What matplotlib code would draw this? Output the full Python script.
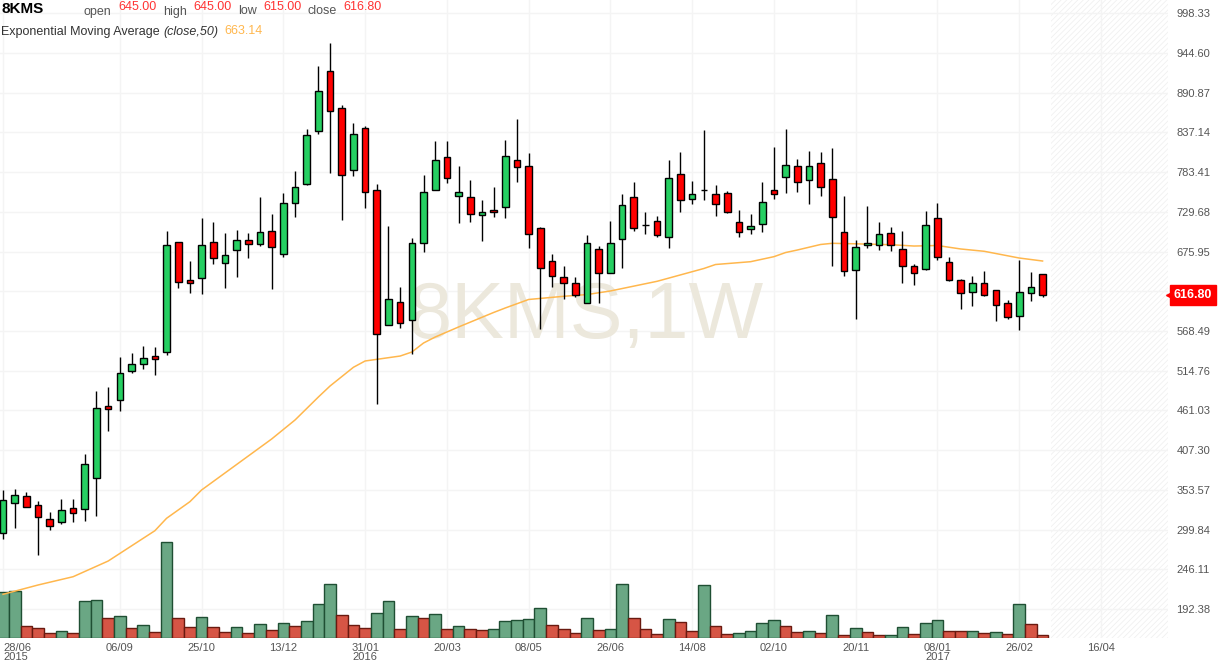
import matplotlib
matplotlib.use("Agg")
import matplotlib.pyplot as plt
import matplotlib.transforms as mtransforms
from matplotlib.patches import Rectangle

plt.rcParams['font.family'] = ['Liberation Sans', 'DejaVu Sans']
plt.rcParams['hatch.linewidth'] = 0.5

# Weekly candles, 28/06/2015 .. 12/03/2017 (week index 0..89)
opens = [294.8, 335.4, 344.9, 332.7, 313.7, 309.7, 328.6, 327.3, 370.0, 466.6,
         474.7, 513.9, 523.4, 534.2, 539.6, 688.4, 637.0, 639.7, 688.4, 660.0,
         677.6, 691.1, 685.7, 703.3, 672.2, 741.2, 767.7, 838.6, 919.8, 869.7,
         785.8, 842.6, 758.8, 576.2, 607.3, 582.9, 687.1, 758.8, 803.4, 750.7,
         749.3, 725.0, 731.7, 735.8, 799.4, 791.2, 707.4, 662.7, 641.1, 633.0,
         605.9, 679.0, 646.5, 692.5, 749.3, 711.4, 716.8, 695.2, 780.4, 746.6,
         758.8, 753.4, 754.7, 715.5, 706.0, 712.8, 758.8, 776.4, 791.2, 772.3,
         795.3, 773.7, 702.0, 650.6, 684.4, 684.4, 700.6, 679.0, 656.0, 651.9,
         720.9, 661.4, 637.0, 620.8, 633.0, 623.5, 605.9, 588.3, 619.5, 645.0]
highs = [353.4, 354.7, 350.3, 338.5, 323.6, 341.2, 341.2, 402.1, 487.3, 492.7,
         533.3, 538.7, 548.2, 546.4, 703.7, 689.5, 663.1, 720.9, 715.5, 701.0,
         704.7, 700.6, 749.7, 726.3, 754.7, 784.5, 841.3, 926.9, 957.6, 873.8,
         849.4, 845.4, 767.3, 710.5, 627.6, 694.3, 779.5, 825.5, 825.5, 791.2,
         772.3, 745.3, 762.8, 826.4, 855.2, 808.8, 708.7, 672.2, 656.4, 641.1,
         697.9, 683.4, 717.3, 753.8, 770.0, 729.0, 723.6, 799.8, 810.2, 771.0,
         839.9, 765.5, 757.4, 731.7, 726.3, 769.6, 817.4, 841.3, 800.7, 811.5,
         810.2, 815.6, 750.7, 691.1, 737.1, 715.5, 708.7, 703.3, 658.7, 730.4,
         741.2, 668.2, 638.4, 643.1, 649.2, 623.5, 610.0, 664.1, 647.9, 645.0]
lows = [287.5, 302.4, 330.0, 265.9, 299.7, 307.0, 310.5, 311.9, 318.6, 433.6,
        460.6, 511.2, 517.5, 509.3, 535.6, 626.2, 620.3, 618.9, 659.5, 627.0,
        641.9, 667.6, 683.0, 625.7, 669.0, 723.1, 766.4, 835.3, 782.6, 719.0,
        778.5, 735.2, 470.1, 576.2, 572.9, 537.8, 674.9, 758.8, 768.3, 714.1,
        715.5, 689.8, 722.3, 720.9, 769.6, 680.3, 570.8, 628.4, 611.3, 614.0,
        605.9, 606.7, 646.5, 654.1, 703.3, 699.3, 695.2, 680.3, 729.0, 739.8,
        745.3, 724.4, 727.7, 695.2, 699.3, 702.0, 746.6, 754.7, 756.1, 740.7,
        750.7, 656.0, 643.1, 585.1, 680.3, 677.6, 676.3, 633.0, 630.3, 650.6,
        664.1, 635.7, 598.6, 601.9, 615.4, 582.4, 584.3, 570.2, 609.4, 615.0]
closes = [339.4, 346.2, 330.0, 316.4, 304.3, 325.9, 321.9, 388.1, 463.9, 462.5,
          511.6, 523.8, 531.5, 531.0, 684.4, 634.3, 633.0, 684.4, 666.8, 670.9,
          691.1, 685.7, 702.0, 681.7, 741.2, 762.8, 833.2, 892.7, 865.6, 779.1,
          834.5, 756.1, 564.0, 611.3, 578.9, 687.1, 756.1, 799.4, 775.0, 756.1,
          726.3, 729.0, 729.0, 804.8, 789.9, 699.3, 653.3, 642.4, 633.0, 616.8,
          687.1, 646.5, 687.1, 738.5, 707.4, 711.4, 697.9, 775.0, 745.3, 753.4,
          758.8, 739.8, 729.0, 702.0, 710.1, 742.6, 753.4, 792.6, 769.6, 791.2,
          762.8, 722.3, 649.2, 681.7, 687.1, 699.3, 684.4, 656.0, 646.5, 711.4,
          668.2, 637.0, 619.5, 633.0, 616.8, 603.2, 587.0, 620.8, 627.6, 616.8]

# volume (thousands) and its bar colour as shown in the chart (1 = up / green)
volume = [46.0, 46.7, 11.4, 9.4, 4.4, 6.7, 4.4, 36.4, 37.4, 19.4,
          21.4, 9.4, 12.4, 5.7, 95.4, 19.4, 10.4, 20.4, 10.4, 5.7,
          10.4, 4.4, 13.4, 7.4, 14.4, 11.4, 16.4, 33.7, 53.4, 22.4,
          12.4, 9.4, 24.4, 36.4, 8.4, 21.4, 19.4, 23.3, 8.3, 11.3,
          8.3, 7.3, 8.3, 16.3, 17.3, 18.3, 29.3, 12.3, 8.3, 4.3,
          19.3, 7.3, 8.3, 53.3, 19.3, 8.3, 3.3, 18.3, 15.3, 6.3,
          52.3, 11.3, 3.3, 4.3, 6.3, 14.3, 17.3, 11.3, 5.3, 6.3,
          4.3, 22.3, 2.3, 9.3, 5.3, 2.3, 2.3, 10.3, 3.3, 14.3,
          17.3, 6.3, 6.3, 6.3, 4.3, 5.3, 3.3, 33.3, 13.3, 2.3]
volume_up = [1, 1, 0, 0, 0, 1, 0, 1, 1, 0, 1, 0, 1, 0, 1, 0, 0, 1, 0, 0,
             1, 0, 1, 0, 1, 0, 1, 1, 1, 0, 0, 0, 1, 1, 0, 1, 0, 1, 0, 1,
             0, 0, 1, 1, 1, 1, 1, 0, 0, 0, 1, 0, 1, 1, 0, 0, 0, 1, 0, 0,
             1, 0, 0, 1, 1, 1, 1, 0, 0, 1, 0, 1, 0, 1, 0, 0, 1, 1, 0, 1,
             1, 0, 0, 1, 0, 1, 0, 1, 0, 0]

# EMA(close,50) at these weeks
ema_weeks = [0, 3, 6, 9, 13, 14, 16, 17, 20, 23, 25, 27, 28, 30, 31, 34, 35, 36,
             37, 39, 42, 43, 45, 48, 50, 52, 56, 60, 61, 64, 66, 67, 68, 70, 71,
             73, 76, 78, 80, 82, 84, 87, 89]
ema_values = [212.3, 224.9, 236.1, 257.3, 298.3, 315.1, 337.6, 353.4, 387.9, 422.4,
              448.1, 479.2, 494.1, 519.4, 527.9, 534.6, 540.0, 552.2, 560.3, 573.9,
              593.5, 599.6, 611.1, 615.4, 617.8, 622.6, 635.7, 653.0, 658.4, 662.2,
              669.0, 674.6, 678.0, 685.5, 687.1, 686.4, 685.2, 683.4, 684.1, 679.4,
              676.3, 667.2, 663.14]

date_ticks = [0, 10, 17, 24, 31, 38, 45, 52, 59, 66, 73, 80, 87, 94]
date_labels = ['28/06\n2015', '06/09', '25/10', '13/12', '31/01\n2016', '20/03',
               '08/05', '26/06', '14/08', '02/10', '20/11', '08/01\n2017', '26/02', '16/04']
grid_prices = [192.38, 246.11, 299.84, 353.57, 407.30, 461.03, 514.76, 568.49,
               622.22, 675.95, 729.68, 783.41, 837.14, 890.87, 944.60, 998.33]
price_ticks = [p for p in grid_prices if p != 622.22]  # hidden behind the last-price tag

GREEN = '#26cf62'
RED = '#ff0000'
GRID = '#f4f4f4'

W, H = 1223, 665
fig = plt.figure(figsize=(W / 100, H / 100), dpi=100)
rect = [0, 27.3 / H, 1168 / W, 1 - 27.3 / H]
xlim = (-0.26, 99.74)
ylim = (153.6, 1016.2)

# background: grid, future hatch, watermark
axg = fig.add_axes(rect, zorder=0)
axg.set_xlim(xlim)
axg.set_ylim(ylim)
axg.axis('off')
axg.axvspan(len(closes) - 0.3, xlim[1], facecolor='white', edgecolor='#eeeeee',
            hatch='//////', linewidth=0)
for p in grid_prices:
    axg.axhline(p, color=GRID, lw=1, zorder=1)
for t in date_ticks:
    axg.axvline(t, color=GRID, lw=1, zorder=1)
axg.text(0.501, 0.502, '8KMS,1W', transform=axg.transAxes, ha='center', va='center',
         fontsize=57, color='#ece8dc', zorder=2)

# volume panel
axv = fig.add_axes(rect, zorder=1)
axv.patch.set_visible(False)
axv.set_xlim(xlim)
axv.set_ylim(0, max(volume) * 6.68)
axv.axis('off')
for i, v in enumerate(volume):
    up = volume_up[i]
    axv.bar(i, v, width=1.0, color='#6aa784' if up else '#d65545',
            edgecolor='#1f4f33' if up else '#6a1a10', linewidth=1)

# price panel
ax = fig.add_axes(rect, zorder=2)
ax.patch.set_visible(False)
ax.set_xlim(xlim)
ax.set_ylim(ylim)
for s in ax.spines.values():
    s.set_visible(False)

ax.plot(ema_weeks, ema_values, color='#ffb74d', lw=1.1, zorder=2)

bw = 0.57
for i in range(len(closes)):
    o, h, l, c = opens[i], highs[i], lows[i], closes[i]
    col = GREEN if c >= o else RED
    ax.plot([i, i], [l, h], color='black', lw=1, zorder=3, solid_capstyle='butt')
    ax.add_patch(Rectangle((i - bw / 2, min(o, c)), bw, abs(c - o), facecolor=col,
                           edgecolor='black', linewidth=1, zorder=4))

ax.yaxis.tick_right()
ax.set_yticks(price_ticks)
ax.set_yticklabels(['%.2f' % p for p in price_ticks])
ax.set_xticks(date_ticks)
ax.set_xticklabels(date_labels, linespacing=0.95)
ax.tick_params(axis='both', length=0, labelsize=8, labelcolor='#555555')
ax.tick_params(axis='y', pad=6)
ax.tick_params(axis='x', pad=3.5)
for lab in ax.get_xticklabels():
    lab.set_multialignment('center')
ax.get_xticklabels()[0].set_ha('left')
ax.get_xticklabels()[0].set_multialignment('left')

# last price tag
last = closes[-1]
trans = mtransforms.blended_transform_factory(ax.transAxes, ax.transData)
ax.plot([1.0015], [last], marker='<', color=RED, markersize=6, transform=trans,
        clip_on=False, zorder=5)
ax.text(1174 / 1168, last, '%.2f' % last, transform=trans, ha='left', va='center',
        fontsize=9, fontweight='bold', color='white', clip_on=False, zorder=6,
        bbox=dict(boxstyle='square,pad=0.32', facecolor=RED, edgecolor=RED))

# header
def px(x, y):
    return x / W, 1 - y / H

fig.text(*px(1, 9), '8KMS', fontsize=11, fontweight='bold', color='black', va='center')
header = [('open', 84, opens[-1], 118), ('high', 163, highs[-1], 193),
          ('low', 238, lows[-1], 263), ('close', 308, closes[-1], 343)]
for name, xn, val, xv in header:
    fig.text(*px(xn, 11.5), name, fontsize=9, color='#555555', va='center')
    fig.text(*px(xv, 7.5), '%.2f' % val, fontsize=9, color='#ff3333', va='center')
fig.text(*px(1, 31.5), 'Exponential Moving Average', fontsize=9, color='#333333', va='center')
fig.text(*px(163, 31.5), '(close,50)', fontsize=9, style='italic', color='#333333', va='center')
fig.text(*px(224, 31.5), '%.2f' % ema_values[-1], fontsize=9, color='#ffb74d', va='center')

fig.savefig('out.png', dpi=100)
